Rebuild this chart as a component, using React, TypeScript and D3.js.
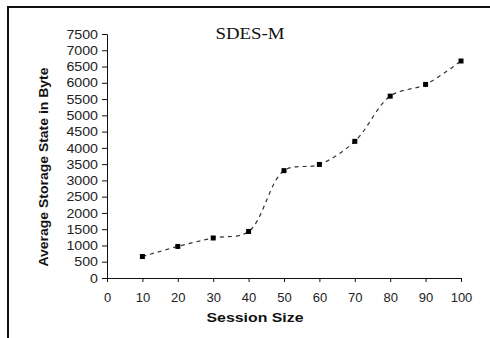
import { useRef, useEffect } from 'react'
import * as d3 from 'd3'

const sessionSizes = [10, 20, 30, 40, 50, 60, 70, 80, 90, 100]
const storageState = [660, 970, 1230, 1430, 3300, 3490, 4200, 5590, 5950, 6670]
const xTicks = [0, 10, 20, 30, 40, 50, 60, 70, 80, 90, 100]
const yTicks = d3.range(0, 7501, 500)

export default function App() {
  const ref = useRef<SVGSVGElement>(null)

  useEffect(() => {
    if (!ref.current) return
    const svg = d3.select(ref.current)
    svg.selectAll('*').remove()

    const W = 490
    const H = 338

    svg.append('rect').attr('width', W).attr('height', H).attr('fill', '#fff')

    // frame (top and left edges only visible)
    svg.append('line').attr('x1', 7).attr('x2', W).attr('y1', 7).attr('y2', 7)
      .attr('stroke', '#111').attr('stroke-width', 2)
    svg.append('line').attr('x1', 8).attr('x2', 8).attr('y1', 6).attr('y2', H)
      .attr('stroke', '#111').attr('stroke-width', 2)

    const x = d3.scaleLinear().domain([0, 100]).range([107, 461])
    const y = d3.scaleLinear().domain([0, 7500]).range([278, 34])

    const font = 'Arial, "Liberation Sans", sans-serif'

    // y axis
    const gy = svg.append('g')
      .attr('transform', `translate(${x(0)},0)`)
      .call(d3.axisLeft(y).tickValues(yTicks).tickSize(5).tickPadding(4).tickFormat(d3.format('d')))
    gy.select('.domain').attr('stroke', '#111')
    gy.selectAll('.tick line').attr('stroke', '#111')
    gy.selectAll('text')
      .attr('font-family', font)
      .attr('font-size', 13)
      .attr('fill', '#222')
      .attr('textLength', (d: any) => String(d).length * 7.9)
      .attr('lengthAdjust', 'spacingAndGlyphs')

    // x axis
    const gx = svg.append('g')
      .attr('transform', `translate(0,${y(0)})`)
      .call(d3.axisBottom(x).tickValues(xTicks).tickSize(4).tickPadding(11).tickFormat(d3.format('d')))
    gx.select('.domain').attr('stroke', '#111')
    gx.selectAll('.tick line').attr('stroke', '#111')
    gx.selectAll('text')
      .attr('font-family', font)
      .attr('font-size', 13)
      .attr('fill', '#222')

    // dashed smooth line
    const pts: [number, number][] = sessionSizes.map((s, i) => [x(s), y(storageState[i])])
    const line = d3.line().curve(d3.curveCatmullRom.alpha(0.5))
    svg.append('path')
      .attr('d', line(pts))
      .attr('fill', 'none')
      .attr('stroke', '#333')
      .attr('stroke-width', 1.2)
      .attr('stroke-dasharray', '4,4')

    // markers
    svg.selectAll('rect.pt')
      .data(pts)
      .join('rect')
      .attr('class', 'pt')
      .attr('x', (d) => d[0] - 2.5)
      .attr('y', (d) => d[1] - 2.5)
      .attr('width', 5)
      .attr('height', 5)
      .attr('fill', '#000')

    // title
    svg.append('text')
      .attr('x', 250)
      .attr('y', 39)
      .attr('text-anchor', 'middle')
      .attr('font-family', '"Liberation Serif", "Times New Roman", serif')
      .attr('font-size', 17)
      .attr('textLength', 69)
      .attr('lengthAdjust', 'spacingAndGlyphs')
      .attr('fill', '#111')
      .text('SDES-M')

    // axis titles
    svg.append('text')
      .attr('x', 255)
      .attr('y', 322)
      .attr('text-anchor', 'middle')
      .attr('font-family', font)
      .attr('font-weight', 'bold')
      .attr('font-size', 13)
      .attr('textLength', 97)
      .attr('lengthAdjust', 'spacingAndGlyphs')
      .attr('fill', '#111')
      .text('Session Size')

    svg.append('text')
      .attr('transform', `translate(48,167) rotate(-90)`)
      .attr('text-anchor', 'middle')
      .attr('font-family', font)
      .attr('font-weight', 'bold')
      .attr('font-size', 13)
      .attr('textLength', 199)
      .attr('lengthAdjust', 'spacingAndGlyphs')
      .attr('fill', '#111')
      .text('Average Storage State in Byte')
  }, [])

  return (
    <svg
      ref={ref}
      width={490}
      height={338}
      style={{ position: 'absolute', left: 0, top: 0 }}
    />
  )
}
